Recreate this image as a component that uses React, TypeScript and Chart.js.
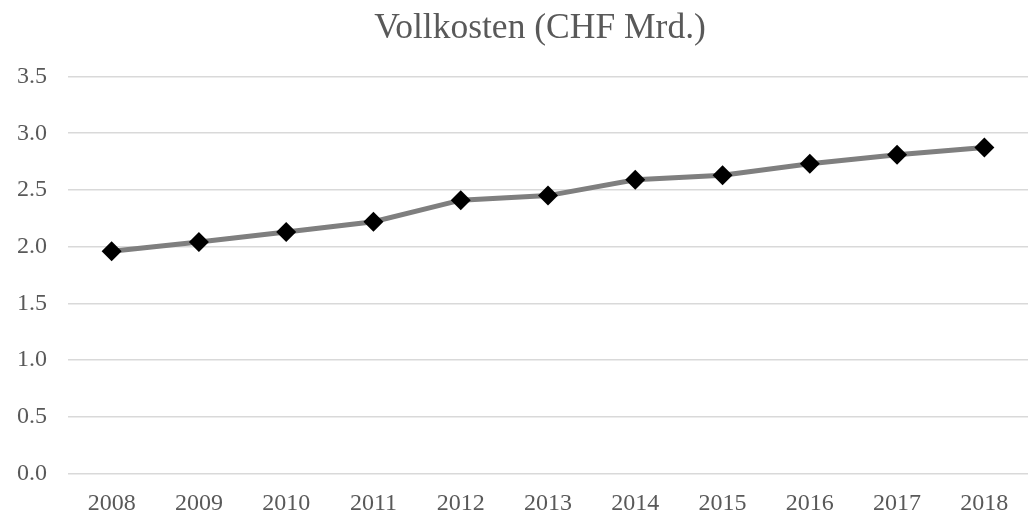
import React, { useEffect, useRef } from "react";
import { Chart, registerables } from "chart.js";

Chart.register(...registerables);

const TITLE = "Vollkosten (CHF Mrd.)";
const YEARS = ["2008", "2009", "2010", "2011", "2012", "2013", "2014", "2015", "2016", "2017", "2018"];
const VOLLKOSTEN = [1.96, 2.04, 2.13, 2.22, 2.41, 2.45, 2.59, 2.63, 2.73, 2.81, 2.875];
const Y_MIN = 0;
const Y_MAX = 3.5;
const Y_STEP = 0.5;

const FONT = "'Liberation Serif', 'Times New Roman', serif";
const TEXT_COLOR = "#595959";

const W = 1038;
const H = 517;

const titlePlugin = {
  id: "customTitle",
  afterDraw(chart: any) {
    const ctx = chart.ctx;
    ctx.save();
    ctx.font = `35.5px ${FONT}`;
    ctx.fillStyle = TEXT_COLOR;
    ctx.textAlign = "center";
    ctx.textBaseline = "alphabetic";
    ctx.fillText(TITLE, 540, 38);
    ctx.restore();
  },
};

export default function App() {
  const ref = useRef<HTMLCanvasElement | null>(null);

  useEffect(() => {
    if (!ref.current) return;
    const chart = new Chart(ref.current, {
      type: "line",
      data: {
        labels: YEARS,
        datasets: [
          {
            label: TITLE,
            data: VOLLKOSTEN,
            borderColor: "#7f7f7f",
            borderWidth: 5,
            pointStyle: "rectRot",
            pointRadius: 10,
            pointBackgroundColor: "#000000",
            pointBorderColor: "#000000",
            pointBorderWidth: 0,
            tension: 0,
          },
        ],
      },
      options: {
        responsive: false,
        animation: false,
        layout: { padding: { top: 76.5, bottom: 0, left: 0, right: 1 } },
        plugins: {
          legend: { display: false },
          title: { display: false },
          tooltip: { enabled: false },
        },
        scales: {
          x: {
            offset: true,
            grid: { display: false, drawTicks: false },
            border: { display: false },
            ticks: {
              color: TEXT_COLOR,
              font: { family: FONT, size: 24 },
              padding: 16,
              maxRotation: 0,
              autoSkip: false,
            },
            afterFit(scale: any) {
              scale.height = 43.5;
            },
          },
          y: {
            min: Y_MIN,
            max: Y_MAX,
            grid: { color: "#d9d9d9", lineWidth: 1.5, drawTicks: false },
            border: { display: false },
            ticks: {
              stepSize: Y_STEP,
              color: TEXT_COLOR,
              font: { family: FONT, size: 24 },
              padding: 21,
              callback: (v: any) => Number(v).toFixed(1),
            },
            afterFit(scale: any) {
              scale.width = 68;
            },
          },
        },
      },
      plugins: [titlePlugin],
    });
    return () => chart.destroy();
  }, []);

  return (
    <div
      style={{
        position: "fixed",
        left: 0,
        top: 0,
        width: 1033,
        height: 517,
        overflow: "hidden",
        background: "#ffffff",
      }}
    >
      <canvas ref={ref} width={W} height={H} style={{ width: W, height: H, display: "block" }} />
    </div>
  );
}
